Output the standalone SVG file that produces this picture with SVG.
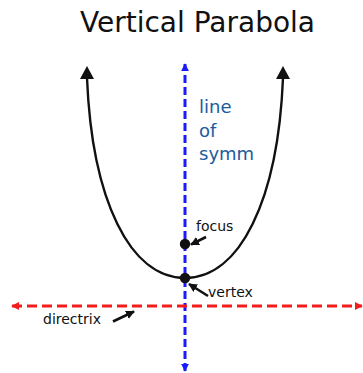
<svg xmlns="http://www.w3.org/2000/svg" width="363" height="373" viewBox="0 0 363 373">
<style>
text{font-family:"DejaVu Sans","Verdana",sans-serif;fill:#111}
.lbl{font-size:14px}
.sym{font-size:18px;fill:#1b5c9b}
.curve{fill:none;stroke:#111;stroke-width:2.4}
.axis{fill:none;stroke:#1a1aff;stroke-width:3;stroke-dasharray:8 4}
.dir{fill:none;stroke:#f21c1c;stroke-width:3;stroke-dasharray:10 5}
.ptr{fill:none;stroke:#111;stroke-width:2.6}
</style>
<defs>
<marker id="ah" viewBox="0 0 10 10" refX="9" refY="5" markerWidth="3.4" markerHeight="3.4" orient="auto">
<path d="M0,0 L10,5 L0,10 z" fill="#111"/>
</marker>
<marker id="blueArrow" viewBox="0 0 10 10" refX="9" refY="5" markerWidth="8" markerHeight="8" markerUnits="userSpaceOnUse" orient="auto-start-reverse">
<path d="M0,0 L10,5 L0,10 z" fill="#1a1aff"/>
</marker>
<marker id="redArrow" viewBox="0 0 10 10" refX="9" refY="5" markerWidth="8" markerHeight="8" markerUnits="userSpaceOnUse" orient="auto-start-reverse">
<path d="M0,0 L10,5 L0,10 z" fill="#f21c1c"/>
</marker>
</defs>
<g id="title"><text x="80" y="32" style="font-size:28px">Vertical Parabola</text></g>
<g id="connectors">
<path id="parabola" class="curve" d="M87,78 C92,200 130,278 185,278 C240,278 278,200 283,78"/>
<polygon points="87,66 80,79 94,79" fill="#111"/>
<polygon points="283,66 276,79 290,79" fill="#111"/>
<line id="axis" class="axis" x1="185" y1="371" x2="185" y2="64" marker-start="url(#blueArrow)" marker-end="url(#blueArrow)"/>
<line id="directrix" class="dir" x1="12" y1="306" x2="362" y2="306" marker-start="url(#redArrow)" marker-end="url(#redArrow)"/>
<line class="ptr" x1="206" y1="237" x2="191" y2="244.5" marker-end="url(#ah)"/>
<line class="ptr" x1="208" y1="296" x2="189" y2="284" marker-end="url(#ah)"/>
<line class="ptr" x1="113" y1="321.5" x2="134" y2="311.5" marker-end="url(#ah)"/>
</g>
<g id="focus"><circle cx="185" cy="244" r="5.2" fill="#111"/><text class="lbl" x="196" y="231">focus</text></g>
<g id="vertex"><circle cx="185" cy="278" r="5.2" fill="#111"/><text class="lbl" x="208" y="297">vertex</text></g>
<g id="directrix-label"><text class="lbl" x="43" y="324">directrix</text></g>
<g id="symmetry-label"><text class="sym" x="199" y="113">line</text><text class="sym" x="199" y="137">of</text><text class="sym" x="199" y="160">symm</text></g>
</svg>
